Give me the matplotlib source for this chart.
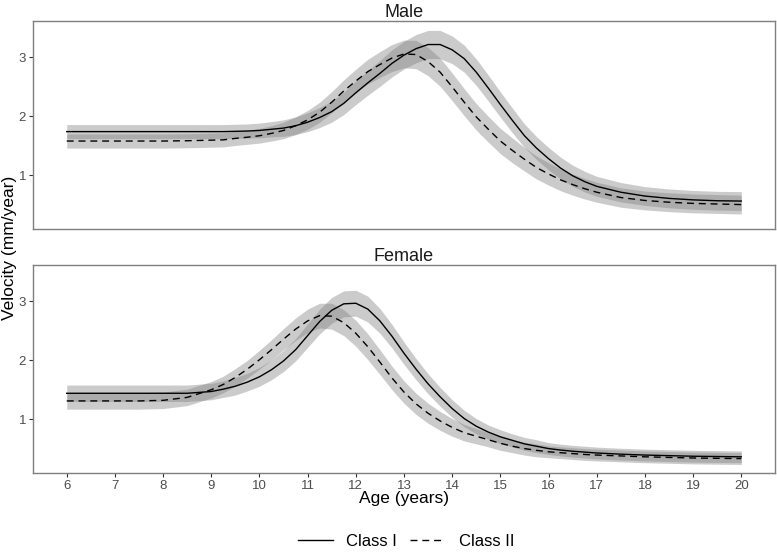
import matplotlib
matplotlib.use("Agg")
import matplotlib.pyplot as plt

plt.rcParams['font.family'] = ['Liberation Sans', 'DejaVu Sans']

# age grid shared by all curves (years)
ages = [6, 6.5, 7, 7.5, 8, 8.5, 9,
        9.25, 9.5, 9.75, 10, 10.25, 10.5, 10.75, 11,
        11.25, 11.5, 11.75, 12, 12.25, 12.5, 12.75, 13,
        13.25, 13.5, 13.75, 14, 14.25, 14.5, 14.75, 15,
        15.25, 15.5, 15.75, 16, 16.25, 16.5, 16.75, 17,
        17.5, 18, 18.5, 19, 19.5, 20]

# velocity (mm/year)
male_class1 = [1.74, 1.74, 1.74, 1.74, 1.74, 1.74, 1.74,
               1.74, 1.745, 1.75, 1.76, 1.78, 1.80, 1.84, 1.90,
               1.98, 2.08, 2.22, 2.40, 2.57, 2.73, 2.90, 3.04,
               3.15, 3.22, 3.22, 3.13, 2.98, 2.75, 2.48, 2.20,
               1.93, 1.67, 1.46, 1.28, 1.12, 0.99, 0.89, 0.81,
               0.71, 0.645, 0.605, 0.58, 0.565, 0.56]
male_class2 = [1.58, 1.58, 1.58, 1.58, 1.58, 1.585, 1.595,
               1.60, 1.625, 1.645, 1.67, 1.71, 1.76, 1.84, 1.94,
               2.07, 2.24, 2.43, 2.60, 2.76, 2.88, 2.99, 3.06,
               3.05, 2.93, 2.75, 2.50, 2.24, 1.99, 1.78, 1.58,
               1.42, 1.27, 1.13, 1.02, 0.92, 0.84, 0.77, 0.71,
               0.62, 0.57, 0.54, 0.52, 0.51, 0.50]
female_class1 = [1.44, 1.44, 1.44, 1.44, 1.44, 1.44, 1.47,
                 1.51, 1.56, 1.63, 1.72, 1.84, 1.99, 2.18, 2.42,
                 2.66, 2.85, 2.96, 2.97, 2.87, 2.67, 2.41, 2.12,
                 1.85, 1.60, 1.38, 1.18, 1.01, 0.88, 0.78, 0.70,
                 0.64, 0.58, 0.54, 0.50, 0.475, 0.455, 0.44, 0.425,
                 0.405, 0.39, 0.38, 0.37, 0.365, 0.36]
female_class2 = [1.31, 1.31, 1.31, 1.31, 1.32, 1.37, 1.50,
                 1.59, 1.71, 1.85, 2.01, 2.18, 2.36, 2.53, 2.67,
                 2.76, 2.75, 2.64, 2.46, 2.23, 1.97, 1.70, 1.46,
                 1.26, 1.10, 0.97, 0.86, 0.77, 0.71, 0.65, 0.59,
                 0.54, 0.50, 0.47, 0.445, 0.43, 0.415, 0.40, 0.39,
                 0.375, 0.36, 0.35, 0.34, 0.335, 0.33]

# half-width of the confidence band
male_band = [0.12, 0.12, 0.12, 0.12, 0.12, 0.12, 0.12,
             0.12, 0.12, 0.12, 0.125, 0.13, 0.14, 0.15, 0.16,
             0.17, 0.18, 0.19, 0.20, 0.21, 0.22, 0.23, 0.235,
             0.24, 0.24, 0.24, 0.235, 0.23, 0.225, 0.22, 0.215,
             0.21, 0.20, 0.195, 0.19, 0.185, 0.18, 0.175, 0.17,
             0.165, 0.16, 0.16, 0.16, 0.16, 0.16]
female_band = [0.14, 0.14, 0.14, 0.14, 0.14, 0.14, 0.14,
               0.14, 0.15, 0.15, 0.16, 0.17, 0.18, 0.19, 0.20,
               0.21, 0.22, 0.22, 0.22, 0.22, 0.21, 0.20, 0.19,
               0.18, 0.17, 0.16, 0.15, 0.14, 0.13, 0.12, 0.12,
               0.11, 0.11, 0.11, 0.10, 0.10, 0.10, 0.10, 0.10,
               0.10, 0.10, 0.10, 0.10, 0.10, 0.10]

panels = [
    ("Male", male_class1, male_class2, male_band),
    ("Female", female_class1, female_class2, female_band),
]

W, H = 777, 555
fig = plt.figure(figsize=(W / 100, H / 100), dpi=100)

left, width = 33 / W, 742 / W
rects = [(left, 1 - 229 / H, width, 208 / H),
         (left, 1 - 473 / H, width, 208 / H)]

for i, (name, c1, c2, band) in enumerate(panels):
    ax = fig.add_axes(rects[i])
    for vals in (c1, c2):
        lo = [v - b for v, b in zip(vals, band)]
        hi = [v + b for v, b in zip(vals, band)]
        ax.fill_between(ages, lo, hi, color='#7f7f7f', alpha=0.4, lw=0)
    l1, = ax.plot(ages, c1, color='black', lw=1.0, ls='-', label='Class I')
    l2, = ax.plot(ages, c2, color='black', lw=1.0, ls=(0, (5, 3.5)), label='Class II')

    ax.set_xlim(5.3, 20.7)
    ax.set_ylim(0.085, 3.62)
    ax.set_yticks([1, 2, 3])
    ax.set_xticks(range(6, 21))
    for s in ax.spines.values():
        s.set_color('#7f7f7f')
        s.set_linewidth(1.0)
    ax.tick_params(colors='#333333', labelcolor='#4d4d4d', labelsize=9.5,
                   length=3, width=0.8, pad=2)
    if i == 0:
        ax.tick_params(axis='x', bottom=False, labelbottom=False)
    ax.set_title(name, fontsize=13, color='#1a1a1a', pad=3)

fig.text(10 / W, 1 - 248 / H, 'Velocity (mm/year)', rotation=90,
         ha='center', va='center', fontsize=12.5, color='black')
fig.text(404 / W, 1 - 499 / H, 'Age (years)', ha='center', va='center',
         fontsize=12.5, color='black')

fig.legend(handles=[l1, l2], loc='center', bbox_to_anchor=(406 / W, 1 - 541 / H),
           ncol=2, frameon=False, fontsize=12, handlelength=2.1,
           columnspacing=0.8, handletextpad=0.8)

fig.savefig('out.png', dpi=100)
